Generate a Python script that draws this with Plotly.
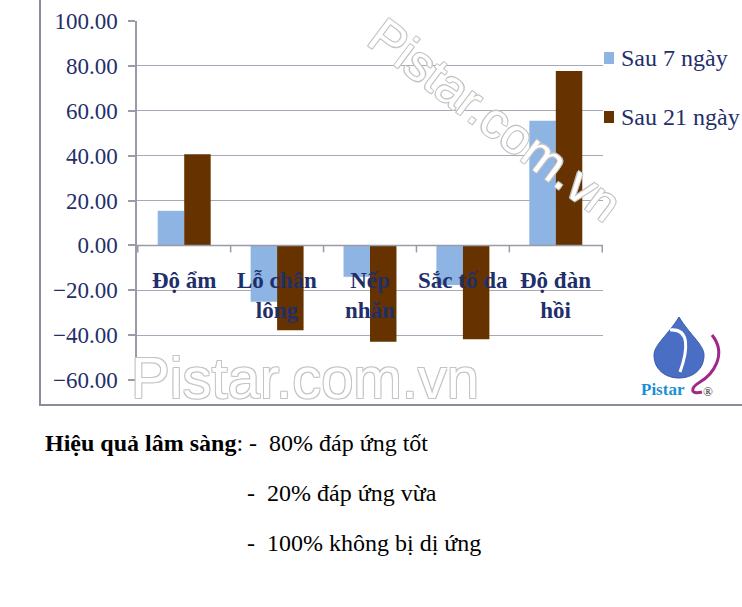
import plotly.graph_objects as go

categories = ["Độ ẩm", "Lỗ chân lông", "Nếp nhăn", "Sắc tố da", "Độ đàn hồi"]
category_labels = ["Độ ẩm", "Lỗ chân<br>lông", "Nếp<br>nhăn", "Sắc tố da", "Độ đàn<br>hồi"]
series_names = ["Sau 7 ngày", "Sau 21 ngày"]
series_colors = ["#8db4e2", "#663300"]
sau_7_ngay = [15.4, -25.1, -14.0, -17.7, 55.5]
sau_21_ngay = [40.6, -37.8, -43.0, -41.8, 77.7]
y_ticks = [-60, -40, -20, 0, 20, 40, 60, 80, 100]
notes = ["<b>Hiệu quả lâm sàng</b>: -  80% đáp ứng tốt",
         "-  20% đáp ứng vừa",
         "-  100% không bị dị ứng"]

W, H = 742, 607
L, R, T, B = 137, 603, 21, 380
NAVY = "#1f2f6b"
SERIF = "Liberation Serif"
GRID = "#a8a8b8"
AXIS = "#9a9aa8"


def px_x(p):
    return (p - L) / (R - L)


def px_y(p):
    return (B - p) / (B - T)


fig = go.Figure()
for name, vals, col in zip(series_names, [sau_7_ngay, sau_21_ngay], series_colors):
    fig.add_trace(go.Bar(x=categories, y=vals, name=name,
                         marker=dict(color=col, line=dict(width=0))))

shapes = []
# x axis line at zero
shapes.append(dict(type="line", xref="paper", yref="y", x0=0, x1=1, y0=0, y1=0,
                   line=dict(color=AXIS, width=1.5), layer="above"))
# tick marks at category boundaries
for i in range(len(categories) + 1):
    shapes.append(dict(type="line", xref="x", yref="y", x0=i - 0.5, x1=i - 0.5,
                       ysizemode="pixel", yanchor=0, y0=0, y1=-7,
                       line=dict(color=AXIS, width=1.5)))
# outer frame
shapes.append(dict(type="rect", xref="paper", yref="paper",
                   x0=px_x(40), x1=px_x(760), y0=px_y(405), y1=px_y(-10),
                   line=dict(color="#8c8c9c", width=2), layer="below"))
# custom legend markers
legend_y = [58, 117]
for yy, col in zip(legend_y, series_colors):
    shapes.append(dict(type="rect", xref="paper", yref="paper",
                       x0=px_x(604), x1=px_x(614), y0=px_y(yy + 6), y1=px_y(yy - 6),
                       fillcolor=col, line=dict(width=0)))


# logo (approximation)
def pp(x, y):
    return f"{px_x(x)},{px_y(y)}"


shapes.append(dict(type="path", xref="paper", yref="paper",
                   path=f"M {pp(679,317)} C {pp(690,335)} {pp(704,345)} {pp(704,355)} "
                        f"C {pp(704,370)} {pp(692,378)} {pp(679,378)} "
                        f"C {pp(666,378)} {pp(654,370)} {pp(654,355)} "
                        f"C {pp(654,345)} {pp(668,335)} {pp(679,317)} Z",
                   fillcolor="#4a6ec4", line=dict(color="#3a5aa8", width=1)))
shapes.append(dict(type="path", xref="paper", yref="paper",
                   path=f"M {pp(670,330)} C {pp(690,328)} {pp(688,350)} {pp(680,372)}",
                   line=dict(color="white", width=3)))
shapes.append(dict(type="path", xref="paper", yref="paper",
                   path=f"M {pp(712,335)} C {pp(728,355)} {pp(712,375)} {pp(700,382)} "
                        f"C {pp(690,388)} {pp(690,395)} {pp(702,392)}",
                   line=dict(color="#a0288c", width=3)))

annotations = []
for i, lab in enumerate(category_labels):
    annotations.append(dict(x=i, y=0, xref="x", yref="y", text=f"<b>{lab}</b>",
                            showarrow=False, xanchor="center", yanchor="top", yshift=-21,
                            font=dict(family=SERIF, size=23, color=NAVY)))
# custom legend texts
for yy, name in zip(legend_y, series_names):
    annotations.append(dict(x=px_x(619), y=px_y(yy), xref="paper", yref="paper",
                            text=name, showarrow=False, xanchor="left", yanchor="middle",
                            font=dict(family=SERIF, size=24, color=NAVY)))
# watermarks
wm_shadow = "-1px -1px 0 #c4c4c4, 1px -1px 0 #c4c4c4, -1px 1px 0 #c4c4c4, 1px 1px 0 #c4c4c4"
annotations.append(dict(x=px_x(305), y=px_y(377), xref="paper", yref="paper",
                        text="Pistar.com.vn", showarrow=False,
                        xanchor="center", yanchor="middle",
                        font=dict(family="Liberation Sans", size=58,
                                  color="white", shadow=wm_shadow)))
annotations.append(dict(x=px_x(495), y=px_y(120), xref="paper", yref="paper",
                        text="Pistar.com.vn", showarrow=False, textangle=37,
                        xanchor="center", yanchor="middle",
                        font=dict(family="Liberation Sans", size=50,
                                  color="white", shadow=wm_shadow)))
annotations.append(dict(x=px_x(663), y=px_y(389), xref="paper", yref="paper",
                        text="<b>Pistar</b>", showarrow=False,
                        xanchor="center", yanchor="middle",
                        font=dict(family=SERIF, size=17, color="#1a8fd6")))
annotations.append(dict(x=px_x(708), y=px_y(391), xref="paper", yref="paper",
                        text="®", showarrow=False,
                        xanchor="center", yanchor="middle",
                        font=dict(family=SERIF, size=13, color="#333333")))
# notes below
annotations.append(dict(x=px_x(43), y=px_y(443), xref="paper", yref="paper",
                        text=notes[0], showarrow=False, xanchor="left", yanchor="middle",
                        font=dict(family=SERIF, size=24, color="black")))
annotations.append(dict(x=px_x(245), y=px_y(493), xref="paper", yref="paper",
                        text=notes[1], showarrow=False, xanchor="left", yanchor="middle",
                        font=dict(family=SERIF, size=24, color="black")))
annotations.append(dict(x=px_x(245), y=px_y(543), xref="paper", yref="paper",
                        text=notes[2], showarrow=False, xanchor="left", yanchor="middle",
                        font=dict(family=SERIF, size=24, color="black")))

fig.update_layout(
    width=W, height=H,
    margin=dict(l=L, r=W - R, t=T, b=H - B, pad=0, autoexpand=False),
    paper_bgcolor="white", plot_bgcolor="white",
    barmode="group", bargap=0.43, bargroupgap=0,
    showlegend=False,
    xaxis=dict(showticklabels=False, showgrid=False, showline=False, ticks="",
               zeroline=False, automargin=False),
    yaxis=dict(range=[-60, 100], tickvals=y_ticks, tickformat=".2f",
               showgrid=True, gridcolor=GRID, gridwidth=1.2,
               showline=True, linecolor=AXIS, linewidth=1.5,
               ticks="outside", ticklen=7, tickcolor=AXIS, tickwidth=1.5,
               zeroline=False, automargin=False, ticklabelstandoff=6,
               tickfont=dict(family=SERIF, size=23, color=NAVY)),
    shapes=shapes, annotations=annotations,
)

fig.write_html("out.html", config={"displayModeBar": False},
               post_script="document.body.style.margin='0';")
